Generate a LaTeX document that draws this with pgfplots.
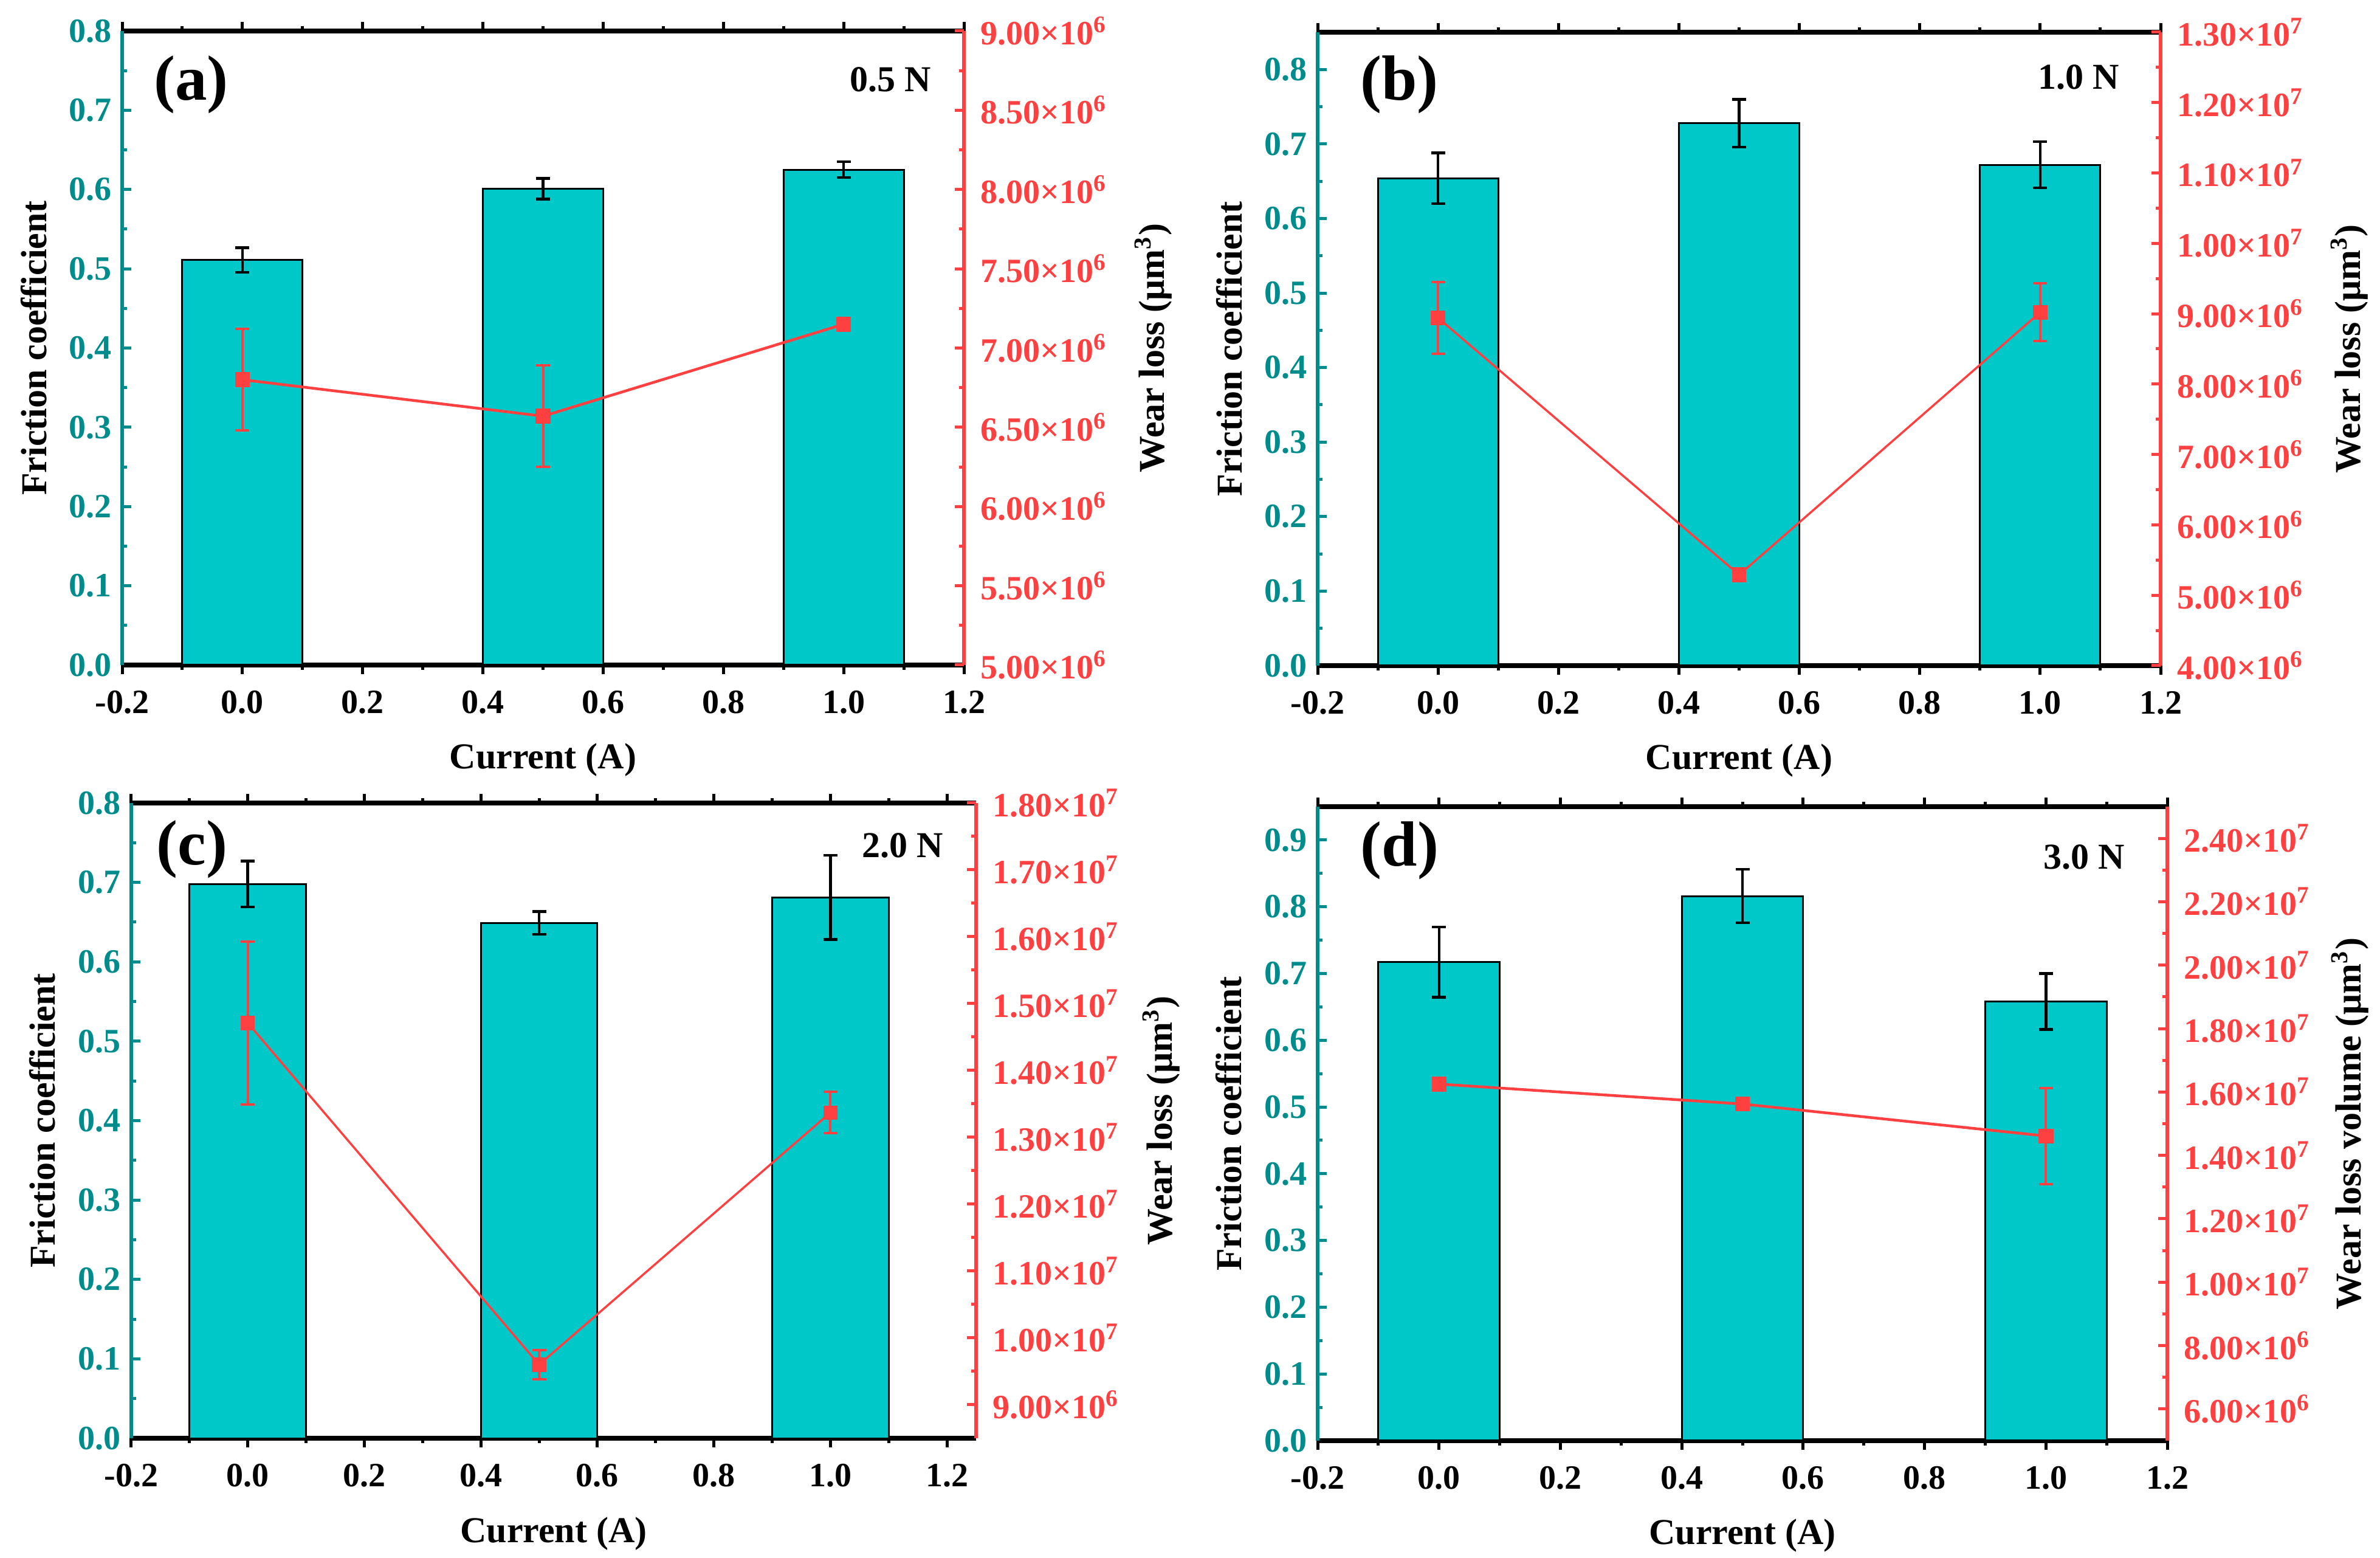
\documentclass[border=0pt]{standalone}
\usepackage{pgfplots}
\pgfplotsset{compat=1.18}
\usepackage{pgfplotstable}
\usepackage{fontspec}
\setmainfont{Liberation Serif}
\definecolor{barfill}{RGB}{0,200,200}
\definecolor{tealax}{RGB}{0,140,140}
\definecolor{redax}{RGB}{255,64,64}

\pgfplotstableread{
x fc fce wl wle
0 0.511 0.0155 6.80e6 0.32e6
0.5 0.601 0.013 6.57e6 0.32e6
1.0 0.625 0.010 7.15e6 0.04e6
}\dataA
\pgfplotstableread{
x fc fce wl wle
0 0.654 0.034 8.94e6 0.51e6
0.5 0.728 0.032 5.29e6 0.09e6
1.0 0.672 0.031 9.02e6 0.41e6
}\dataB
\pgfplotstableread{
x fc fce wl wle
0 0.698 0.029 1.471e7 1.22e6
0.5 0.649 0.0145 9.60e6 0.22e6
1.0 0.681 0.053 1.337e7 0.31e6
}\dataC
\pgfplotstableread{
x fc fce wl wle
0 0.717 0.0525 1.625e7 0.12e6
0.5 0.816 0.040 1.562e7 0.12e6
1.0 0.658 0.042 1.461e7 1.52e6
}\dataD

\newcommand{\tickfont}{\fontsize{11.2}{13}\selectfont\bfseries}
\newcommand{\labfont}{\fontsize{12}{14}\selectfont\bfseries}
\newcommand{\sci}[2]{#1×10\textsuperscript{#2}}

\pgfplotsset{
  leftax/.style={
    scale only axis,
    anchor=north west,
    xmin=-0.2, xmax=1.2,
    ymin=0,
    xtick={-0.2,0,0.2,0.4,0.6,0.8,1.0,1.2},
    minor x tick num=1,
    minor y tick num=1,
    tick align=inside,
    ytick pos=left,
    xtick pos=both,
    separate axis lines,
    x axis line style={black, line width=1.6pt},
    y axis line style={tealax, line width=1.2pt},
    x tick style={black, line width=1pt},
    y tick style={tealax, line width=1pt},
    major tick length=3pt,
    minor tick length=1.6pt,
    xticklabel style={font=\tickfont, black, yshift=-2pt},
    yticklabel style={font=\tickfont, tealax},
    xlabel={Current (A)},
    ylabel={Friction coefficient},
    every axis x label/.style={at={(axis description cs:0.5,-0.15)}, anchor=center, font=\labfont},
    every axis y label/.style={at={(axis description cs:-0.105,0.5)}, anchor=center, rotate=90, font=\labfont},
    ybar, bar width=0.2,
    /pgf/number format/fixed,
    /pgf/number format/fixed zerofill,
    /pgf/number format/precision=1,
    /pgf/number format/assume math mode=true,
  },
  rightax/.style={
    scale only axis, anchor=north west,
    xmin=-0.2, xmax=1.2,
    axis x line=none,
    axis y line*=right,
    y axis line style={redax, line width=1.2pt, -},
    y tick style={redax, line width=1pt},
    tick align=inside,
    major tick length=3pt, minor tick length=1.6pt,
    minor y tick num=1,
    scaled y ticks=false,
    yticklabel style={font=\tickfont, redax, xshift=2pt},
    every axis y label/.style={at={(axis description cs:1.225,0.5)}, anchor=center, rotate=90, font=\labfont},
  },
  barplot/.style={fill=barfill, draw=black, line width=0.6pt,
    error bars/y dir=both, error bars/y explicit,
    error bars/error bar style={black, line width=0.9pt},
    error bars/error mark options={rotate=90, mark size=2.3pt, line width=0.9pt, black}},
  lineplot/.style={redax, line width=#1, mark=square*, mark size=2pt, mark options={solid, fill=redax},
    error bars/y dir=both, error bars/y explicit,
    error bars/error bar style={redax, line width=0.8pt},
    error bars/error mark options={rotate=90, mark size=2.3pt, line width=0.8pt, redax}},
  lineplot/.default=0.9pt,
}

\begin{document}
\begin{tikzpicture}
\useasboundingbox (0,0) rectangle (783.2pt,-512.6pt);

% (a)
\begin{axis}[leftax, at={(40.2pt,-10.2pt)}, width=277pt, height=208.6pt,
  ymax=0.8, ytick={0,0.1,...,0.8}]
\addplot[barplot] table[x=x, y=fc, y error=fce]{\dataA};
\node[font=\fontsize{21}{24}\selectfont\bfseries] at (rel axis cs:0.082,0.915) {(a)};
\node[font=\labfont] at (rel axis cs:0.913,0.923) {0.5 N};
\end{axis}
\begin{axis}[rightax, at={(40.2pt,-10.2pt)}, width=277pt, height=208.6pt,
  ymin=5e6, ymax=9e6,
  ytick={5e6,5.5e6,6e6,6.5e6,7e6,7.5e6,8e6,8.5e6,9e6},
  yticklabels={\sci{5.00}{6},\sci{5.50}{6},\sci{6.00}{6},\sci{6.50}{6},\sci{7.00}{6},\sci{7.50}{6},\sci{8.00}{6},\sci{8.50}{6},\sci{9.00}{6}},
  ylabel={Wear loss (μm\textsuperscript{3})}]
\addplot[lineplot] table[x=x, y=wl, y error=wle]{\dataA};
\end{axis}

% (b)
\begin{axis}[leftax, at={(433.6pt,-10.6pt)}, width=277.4pt, height=208.4pt,
  ymax=0.85, ytick={0,0.1,...,0.8}]
\addplot[barplot] table[x=x, y=fc, y error=fce]{\dataB};
\node[font=\fontsize{21}{24}\selectfont\bfseries] at (rel axis cs:0.097,0.917) {(b)};
\node[font=\labfont] at (rel axis cs:0.903,0.929) {1.0 N};
\end{axis}
\begin{axis}[rightax, at={(433.6pt,-10.6pt)}, width=277.4pt, height=208.4pt,
  ymin=4e6, ymax=1.3e7,
  ytick={4e6,5e6,6e6,7e6,8e6,9e6,1e7,1.1e7,1.2e7,1.3e7},
  yticklabels={\sci{4.00}{6},\sci{5.00}{6},\sci{6.00}{6},\sci{7.00}{6},\sci{8.00}{6},\sci{9.00}{6},\sci{1.00}{7},\sci{1.10}{7},\sci{1.20}{7},\sci{1.30}{7}},
  every axis y label/.append style={at={(axis description cs:1.224,0.5)}},
  ylabel={Wear loss (μm\textsuperscript{3})}]
\addplot[lineplot=0.7pt] table[x=x, y=wl, y error=wle]{\dataB};
\end{axis}

% (c)
\begin{axis}[leftax, at={(43.2pt,-264.2pt)}, width=278pt, height=209pt,
  xmax=1.25, ymax=0.8, ytick={0,0.1,...,0.8}]
\addplot[barplot] table[x=x, y=fc, y error=fce]{\dataC};
\node[font=\fontsize{21}{24}\selectfont\bfseries] at (rel axis cs:0.072,0.927) {(c)};
\node[font=\labfont] at (rel axis cs:0.913,0.933) {2.0 N};
\end{axis}
\begin{axis}[rightax, at={(43.2pt,-264.2pt)}, width=278pt, height=209pt,
  xmax=1.25, ymin=8.5e6, ymax=1.8e7,
  ytick={9e6,1e7,1.1e7,1.2e7,1.3e7,1.4e7,1.5e7,1.6e7,1.7e7,1.8e7},
  yticklabels={\sci{9.00}{6},\sci{1.00}{7},\sci{1.10}{7},\sci{1.20}{7},\sci{1.30}{7},\sci{1.40}{7},\sci{1.50}{7},\sci{1.60}{7},\sci{1.70}{7},\sci{1.80}{7}},
  every axis y label/.append style={at={(axis description cs:1.219,0.5)}},
  ylabel={Wear loss (μm\textsuperscript{3})}]
\addplot[lineplot=0.7pt] table[x=x, y=wl, y error=wle]{\dataC};
\end{axis}

% (d)
\begin{axis}[leftax, at={(433.6pt,-265.4pt)}, width=279.6pt, height=208.6pt,
  ymax=0.95, ytick={0,0.1,...,0.9}]
\addplot[barplot] table[x=x, y=fc, y error=fce]{\dataD};
\node[font=\fontsize{21}{24}\selectfont\bfseries] at (rel axis cs:0.0965,0.931) {(d)};
\node[font=\labfont] at (rel axis cs:0.902,0.92) {3.0 N};
\end{axis}
\begin{axis}[rightax, at={(433.6pt,-265.4pt)}, width=279.6pt, height=208.6pt,
  ymin=5e6, ymax=2.5e7,
  ytick={6e6,8e6,1e7,1.2e7,1.4e7,1.6e7,1.8e7,2e7,2.2e7,2.4e7},
  yticklabels={\sci{6.00}{6},\sci{8.00}{6},\sci{1.00}{7},\sci{1.20}{7},\sci{1.40}{7},\sci{1.60}{7},\sci{1.80}{7},\sci{2.00}{7},\sci{2.20}{7},\sci{2.40}{7}},
  every axis y label/.append style={at={(axis description cs:1.215,0.5)}},
  ylabel={Wear loss volume (μm\textsuperscript{3})}]
\addplot[lineplot] table[x=x, y=wl, y error=wle]{\dataD};
\end{axis}

\end{tikzpicture}
\end{document}
